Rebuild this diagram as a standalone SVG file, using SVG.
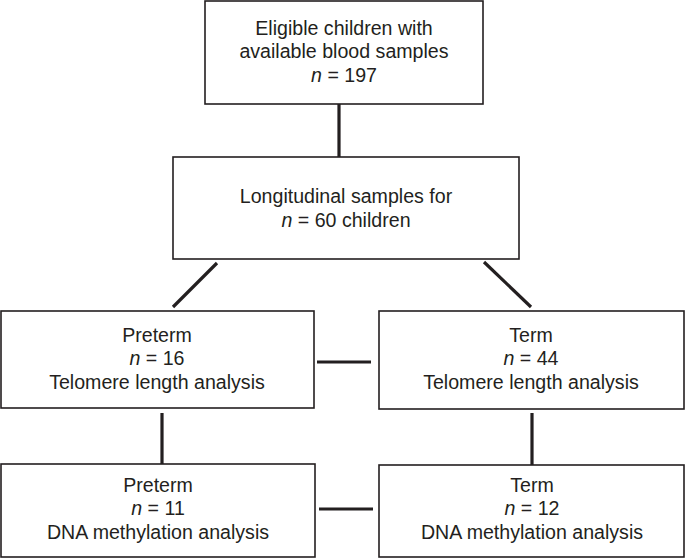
<svg xmlns="http://www.w3.org/2000/svg" width="685" height="558" viewBox="0 0 685 558">
<style>
.box{fill:#fff;stroke:#231f20;stroke-width:1.6}
.t{font-family:"Liberation Sans",Arial,sans-serif;font-size:19.6px;fill:#231f20;text-anchor:middle}
.conn line{stroke:#231f20;stroke-width:3.2}
</style>
<rect width="685" height="558" fill="#fff"/>
<g id="n1"><rect class="box" x="205" y="1" width="278" height="103"/>
<text class="t" x="344" y="35">Eligible children with</text>
<text class="t" x="344" y="58">available blood samples</text>
<text class="t" x="344" y="82"><tspan font-style="italic">n</tspan> = 197</text></g>
<g id="n2"><rect class="box" x="173" y="157" width="346" height="102"/>
<text class="t" x="346" y="203">Longitudinal samples for</text>
<text class="t" x="346" y="227"><tspan font-style="italic">n</tspan> = 60 children</text></g>
<g id="n3"><rect class="box" x="1" y="311" width="313" height="97"/>
<text class="t" x="157" y="342">Preterm</text>
<text class="t" x="157" y="365"><tspan font-style="italic">n</tspan> = 16</text>
<text class="t" x="157" y="389">Telomere length analysis</text></g>
<g id="n4"><rect class="box" x="379" y="311" width="305" height="98"/>
<text class="t" x="531" y="342">Term</text>
<text class="t" x="531" y="365"><tspan font-style="italic">n</tspan> = 44</text>
<text class="t" x="531" y="389">Telomere length analysis</text></g>
<g id="n5"><rect class="box" x="1" y="464" width="314" height="93"/>
<text class="t" x="158" y="492">Preterm</text>
<text class="t" x="158" y="515"><tspan font-style="italic">n</tspan> = 11</text>
<text class="t" x="158" y="539">DNA methylation analysis</text></g>
<g id="n6"><rect class="box" x="379" y="465" width="305" height="92"/>
<text class="t" x="532" y="492">Term</text>
<text class="t" x="532" y="515"><tspan font-style="italic">n</tspan> = 12</text>
<text class="t" x="532" y="539">DNA methylation analysis</text></g>
<g id="connectors" class="conn">
<line x1="339" y1="104" x2="339" y2="157"/>
<line x1="217" y1="263" x2="173" y2="307"/>
<line x1="484" y1="262" x2="531" y2="307"/>
<line x1="317" y1="362" x2="371" y2="362"/>
<line x1="319" y1="509" x2="373" y2="509"/>
<line x1="162" y1="413" x2="162" y2="464"/>
<line x1="532" y1="413" x2="532" y2="465"/>
</g>
</svg>
